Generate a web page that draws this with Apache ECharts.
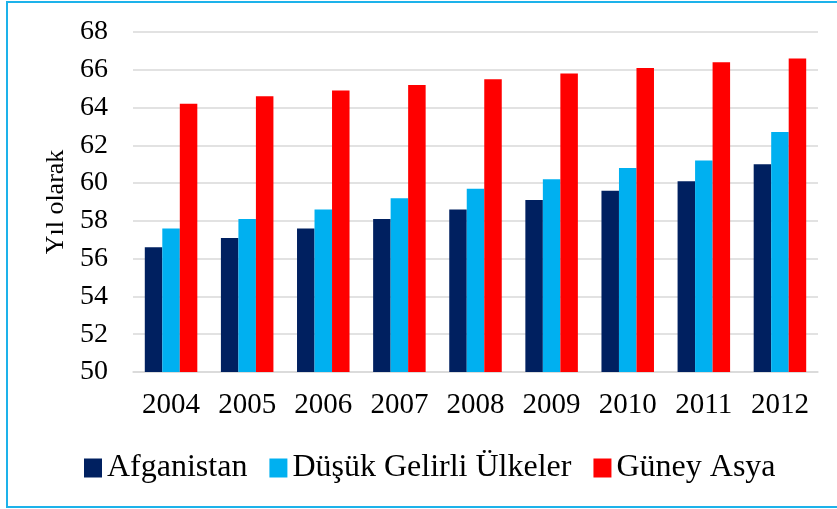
<!DOCTYPE html>
<html>
<head>
<meta charset="utf-8">
<script src="https://cdn.jsdelivr.net/npm/echarts@6/dist/echarts.min.js"></script>
<style>
  html, body { margin: 0; padding: 0; background: #fff; overflow: hidden; }
  #main { width: 837px; height: 509px; }
  #frame { position: absolute; left: 6px; top: 1px; width: 900px; height: 503px; border: 2px solid #1db2ea; pointer-events: none; }
</style>
</head>
<body>
<div id="main"></div>
<div id="frame"></div>
<script>
// yillar ve seriler
var years = ['2004', '2005', '2006', '2007', '2008', '2009', '2010', '2011', '2012']
var afganistan = [56.6, 57.1, 57.6, 58.1, 58.6, 59.1, 59.6, 60.1, 61.0]
var dusukGelir = [57.6, 58.1, 58.6, 59.2, 59.7, 60.2, 60.8, 61.2, 62.7]
var guneyAsya = [64.2, 64.6, 64.9, 65.2, 65.5, 65.8, 66.1, 66.4, 66.6]
var seriesNames = ['Afganistan', 'Düşük Gelirli Ülkeler', 'Güney Asya']

var font = '"Liberation Serif", "Times New Roman", serif'
var myChart = echarts.init(document.getElementById('main'))

myChart.setOption({
  animation: false,
  color: ['#002060', '#00b0f0', '#ff0000'],
  textStyle: { fontFamily: font, color: '#000' },
  grid: {
    left: 133,
    right: 19,
    top: 32,
    bottom: 137
  },
  legend: {
    left: 79,
    top: 447,
    itemWidth: 18,
    itemHeight: 19,
    itemGap: 22,
    icon: 'rect',
    textStyle: { fontFamily: font, fontSize: 32, color: '#000' },
    data: seriesNames
  },
  xAxis: {
    type: 'category',
    data: years,
    axisTick: { show: false },
    axisLine: { lineStyle: { color: '#d9d9d9', width: 1.5 } },
    axisLabel: { fontFamily: font, fontSize: 29, color: '#000', margin: 19 }
  },
  yAxis: {
    type: 'value',
    min: 50,
    max: 68,
    interval: 2,
    name: 'Yıl olarak',
    nameLocation: 'middle',
    nameGap: 62,
    nameTextStyle: { fontFamily: font, fontSize: 26, color: '#000' },
    axisLine: { show: false },
    axisTick: { show: false },
    splitLine: { lineStyle: { color: '#d9d9d9', width: 1.5 } },
    axisLabel: { fontFamily: font, fontSize: 28, color: '#000', margin: 25 }
  },
  series: [
    {
      name: seriesNames[0],
      type: 'bar',
      barGap: '0%',
      barCategoryGap: '31%',
      data: afganistan
    },
    {
      name: seriesNames[1],
      type: 'bar',
      barGap: '0%',
      barCategoryGap: '31%',
      data: dusukGelir
    },
    {
      name: seriesNames[2],
      type: 'bar',
      barGap: '0%',
      barCategoryGap: '31%',
      data: guneyAsya
    }
  ]
})
</script>
</body>
</html>
